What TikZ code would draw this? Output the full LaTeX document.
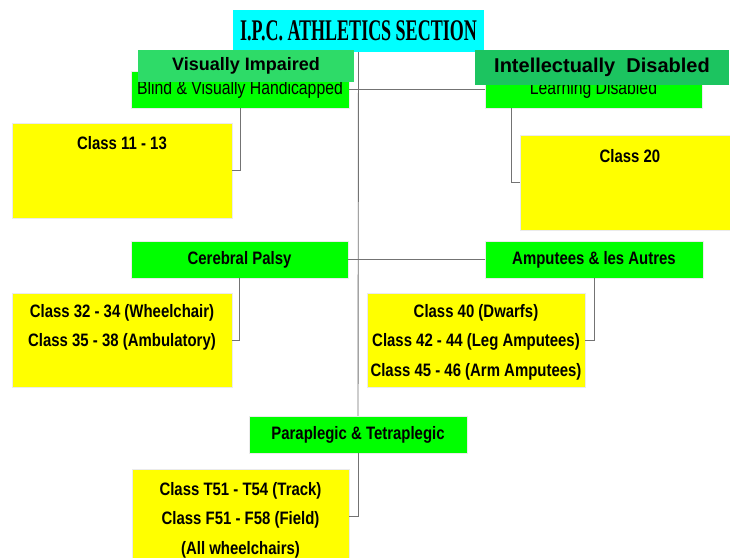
\documentclass[tikz,border=0pt]{standalone}
\usepackage{fontspec}
\setmainfont{Liberation Sans}
\newfontfamily\narrowfont[FakeStretch=0.83]{Liberation Sans}
\newfontfamily\titlefont[FakeStretch=0.6]{Liberation Serif}
\usepackage{tikz}
\usetikzlibrary{positioning}
\definecolor{boxgreen}{RGB}{0,255,0}
\definecolor{boxyellow}{RGB}{255,255,0}
\definecolor{boxcyan}{RGB}{0,255,255}
\definecolor{overgreenA}{RGB}{46,219,104}
\definecolor{overgreenB}{RGB}{28,196,96}
\tikzstyle{group} = [fill=boxgreen, draw=black!8, minimum height=37,
  font=\narrowfont\bfseries\fontsize{18}{21}\selectfont]
\tikzstyle{classbox} = [fill=boxyellow, draw=black!8, minimum height=95]
\tikzstyle{classtext} = [align=center,
  font=\narrowfont\bfseries\fontsize{18}{29.5}\selectfont]
\tikzstyle{overlay} = [font=\bfseries\fontsize{18}{21}\selectfont]
\tikzstyle{link} = [line width=0.9pt, draw=black!55]

\begin{document}
\begin{tikzpicture}
    [x=1pt,y=-1pt,every node/.style={inner sep=0, black}]
    \clip (0,0) rectangle (730,557);
    \fill[white] (0,0) rectangle (730,557);
    \node[fill=boxcyan, minimum width=251, minimum height=42,
      font=\titlefont\bfseries\fontsize{30}{32}\selectfont]
      (title) at (358.5,31) {I.P.C. ATHLETICS SECTION};
    \node[group, minimum width=218,
      font=\narrowfont\fontsize{19}{21}\selectfont]
      (blind) at (240,89.5) {Blind \& Visually Handicapped};
    \node[group, minimum width=217,
      font=\narrowfont\fontsize{19}{21}\selectfont]
      (learn) at (593.5,89.5) {Learning Disabled};
    \node[group, minimum width=217] (cp) at (239.5,259.5) {Cerebral Palsy};
    \node[group, minimum width=218] (amp) at (594,259.5) {Amputees \& les Autres};
    \node[group, minimum width=218] (para) at (358,434.5) {Paraplegic \& Tetraplegic};
    \node[classbox, minimum width=220] (c11) at (122,170.5) {};
    \node[classbox, minimum width=220] (c20) at (630,182.5) {};
    \node[classbox, minimum width=220, minimum height=94] (c32) at (122,340) {};
    \node[classbox, minimum width=218, minimum height=94] (c40) at (476,340) {};
    \node[classbox, minimum width=217, minimum height=94] (c51) at (240.5,516) {};
    \node[classtext, below=13pt of c11.north] (t11) {Class 11 - 13};
    \node[classtext, below=14pt of c20.north] (t20) {Class 20};
    \node[classtext, below=11pt of c32.north] (t32)
      {Class 32 - 34 (Wheelchair)\\Class 35 - 38 (Ambulatory)};
    \node[classtext, below=11pt of c40.north] (t40)
      {Class 40 (Dwarfs)\\Class 42 - 44 (Leg Amputees)\\Class 45 - 46 (Arm Amputees)};
    \node[classtext, below=13pt of c51.north] (t51)
      {Class T51 - T54 (Track)\\Class F51 - F58 (Field)\\(All wheelchairs)};
    \draw[link] (title.south) -- (para.north);
    \foreach \from/\to in {blind/learn,cp/amp}
    \draw[link] (\from.east) -- (\to.west);
    \foreach \from/\to in {blind/c11,cp/c32,amp/c40,para/c51}
    \draw[link] (\from.south) |- (\to.east);
    \draw[link] ([xshift=27pt]learn.south west) |- (c20.west);
    \node[overlay, fill=overgreenA, minimum width=216, minimum height=32]
      (vi) at (246,66) {Visually Impaired};
    \node[overlay, fill=overgreenB, minimum width=254, minimum height=35,
      font=\bfseries\fontsize{20}{23}\selectfont]
      (id) at (602,67.5) {Intellectually\ \ Disabled};
\end{tikzpicture}
\end{document}
